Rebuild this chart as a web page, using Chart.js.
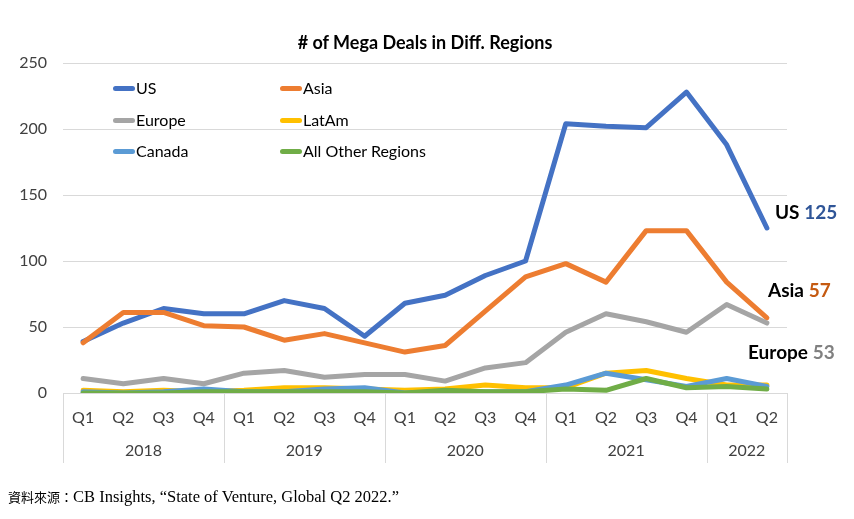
<!DOCTYPE html>
<html lang="zh-Hant">
<head>
  <meta charset="UTF-8">
  <title># of Mega Deals in Diff. Regions</title>
  <script src="https://cdn.jsdelivr.net/npm/chart.js"></script>
  <style>
    body { margin: 0; background: #fff; }
    .wrap { position: relative; width: 854px; height: 519px; font-family: Lato, sans-serif; }
    .titulo { position: absolute; left: 0; width: 850px; top: 30px; text-align: center;
      font-weight: bold; font-size: 18px; line-height: 24px; color: #000; }
    .legenda { position: absolute; font-size: 16px; line-height: 20px; color: #000; display: flex; align-items: center; }
    .legenda i { display: inline-block; width: 22px; height: 5px; border-radius: 3px; margin-right: 1px; }
    .rotulo { position: absolute; font-weight: bold; font-size: 19px; line-height: 24px; color: #000; white-space: nowrap; }
    .fonte { position: absolute; left: 8px; top: 487px; font-family: "Liberation Serif", "Noto Sans CJK TC", serif;
      font-size: 16.5px; line-height: 20px; color: #000; white-space: nowrap; }
    .fonte .cjk { font-family: "Noto Sans CJK TC", sans-serif; font-size: 13px; }
  </style>
</head>
<body>
  <div class="wrap">
    <canvas id="myChart"></canvas>
    <div class="titulo"># of Mega Deals in Diff. Regions</div>
    <div id="legendas"></div>
    <div id="rotulos"></div>
    <div class="fonte"><span class="cjk">資料來源：</span>CB Insights, “State of Venture, Global Q2 2022.”</div>
  </div>

<script>
  const quarters = ['Q1', 'Q2', 'Q3', 'Q4', 'Q1', 'Q2', 'Q3', 'Q4', 'Q1', 'Q2', 'Q3', 'Q4', 'Q1', 'Q2', 'Q3', 'Q4', 'Q1', 'Q2']
  const years = ['2018', '2019', '2020', '2021', '2022']
  const quartersPerYear = [4, 4, 4, 4, 2]
  const yTicks = [0, 50, 100, 150, 200, 250]

  const us = [39, 53, 64, 60, 60, 70, 64, 43, 68, 74, 89, 100, 204, 202, 201, 228, 188, 125]
  const asia = [38, 61, 61, 51, 50, 40, 45, 38, 31, 36, 62, 88, 98, 84, 123, 123, 84, 57]
  const europe = [11, 7, 11, 7, 15, 17, 12, 14, 14, 9, 19, 23, 46, 60, 54, 46, 67, 53]
  const latam = [2, 1, 2, 1, 2, 4, 4, 3, 2, 3, 6, 4, 4, 15, 17, 11, 6, 6]
  const canada = [1, 0, 1, 3, 1, 1, 3, 4, 0, 1, 1, 1, 6, 15, 10, 5, 11, 5]
  const outros = [0, 0, 0, 1, 1, 1, 1, 1, 0, 2, 1, 1, 3, 2, 11, 4, 5, 3]

  const series = [
    { label: 'US', data: us, cor: '#4472C4', ordem: 6 },
    { label: 'Asia', data: asia, cor: '#ED7D31', ordem: 5 },
    { label: 'Europe', data: europe, cor: '#A5A5A5', ordem: 4 },
    { label: 'LatAm', data: latam, cor: '#FFC000', ordem: 3 },
    { label: 'Canada', data: canada, cor: '#5B9BD5', ordem: 2 },
    { label: 'All Other Regions', data: outros, cor: '#70AD47', ordem: 1 }
  ]

  // centro de cada ano e limites entre anos (em indice de categoria)
  var centros = []
  var limites = [-0.5]
  var inicio = 0
  for (var i = 0; i < quartersPerYear.length; i++) {
    centros.push(inicio + (quartersPerYear[i] - 1) / 2)
    inicio += quartersPerYear[i]
    limites.push(inicio - 0.5)
  }

  const separadores = {
    id: 'separadores',
    afterDraw(chart) {
      const ctx = chart.ctx
      const escala = chart.scales.ano
      ctx.save()
      ctx.strokeStyle = '#d9d9d9'
      ctx.lineWidth = 1
      for (var i = 0; i < limites.length; i++) {
        var x = Math.round(escala.getPixelForValue(limites[i])) + 0.5
        ctx.beginPath()
        ctx.moveTo(x, chart.chartArea.bottom)
        ctx.lineTo(x, escala.bottom)
        ctx.stroke()
      }
      ctx.restore()
    }
  }

  const fonte = { family: 'Lato', size: 16 }

  const config = {
    type: 'line',
    data: {
      labels: quarters,
      datasets: series.map(s => ({
        label: s.label,
        data: s.data,
        borderColor: s.cor,
        backgroundColor: s.cor,
        borderWidth: 5,
        pointRadius: 0,
        pointHoverRadius: 0,
        tension: 0,
        borderJoinStyle: 'round',
        borderCapStyle: 'round',
        order: s.ordem
      }))
    },
    options: {
      responsive: true,
      maintainAspectRatio: false,
      animation: false,
      layout: { padding: { left: 18, right: 67, top: 63, bottom: 56 } },
      plugins: {
        legend: { display: false },
        title: { display: false },
        tooltip: { enabled: false }
      },
      scales: {
        x: {
          type: 'category',
          offset: true,
          grid: { display: false, drawTicks: false },
          border: { display: false },
          afterFit: (axis) => { axis.height = 46 },
          ticks: { font: fonte, color: '#404040', padding: 15.5, maxRotation: 0, autoSkip: false }
        },
        ano: {
          type: 'linear',
          position: 'bottom',
          min: -0.5,
          max: quarters.length - 0.5,
          grid: { display: false, drawTicks: false },
          border: { display: false },
          afterBuildTicks: (axis) => { axis.ticks = centros.map(v => ({ value: v })) },
          afterFit: (axis) => { axis.height = 24 },
          ticks: {
            font: fonte, color: '#404040', padding: 2.5, maxRotation: 0, autoSkip: false,
            callback: (v, idx) => years[idx]
          }
        },
        y: {
          min: 0,
          max: 250,
          afterBuildTicks: (axis) => { axis.ticks = yTicks.map(v => ({ value: v })) },
          afterFit: (axis) => { axis.width = 45 },
          grid: { color: '#d9d9d9', drawTicks: false },
          border: { display: false },
          ticks: { font: fonte, color: '#404040', padding: 16 }
        }
      }
    },
    plugins: [separadores]
  }

  let myChart = new Chart(document.getElementById('myChart'), config)

  // legenda em duas colunas
  const posLegenda = [[113, 78], [280, 78], [113, 110], [280, 110], [113, 141], [280, 141]]
  var htmlLegenda = ''
  for (var i = 0; i < series.length; i++) {
    htmlLegenda += '<div class="legenda" style="left:' + posLegenda[i][0] + 'px;top:' + posLegenda[i][1] + 'px">' +
      '<i style="background:' + series[i].cor + '"></i>' + series[i].label + '</div>'
  }
  document.getElementById('legendas').innerHTML = htmlLegenda

  // rotulos do ultimo valor
  const rotulos = [
    { nome: 'US', valor: us[us.length - 1], cor: '#2F5597', left: 775, top: 200 },
    { nome: 'Asia', valor: asia[asia.length - 1], cor: '#C55A11', left: 768, top: 278 },
    { nome: 'Europe', valor: europe[europe.length - 1], cor: '#808080', left: 748, top: 340 }
  ]
  var htmlRotulos = ''
  for (var i = 0; i < rotulos.length; i++) {
    htmlRotulos += '<div class="rotulo" style="left:' + rotulos[i].left + 'px;top:' + rotulos[i].top + 'px">' +
      rotulos[i].nome + ' <span style="color:' + rotulos[i].cor + '">' + rotulos[i].valor + '</span></div>'
  }
  document.getElementById('rotulos').innerHTML = htmlRotulos
</script>
</body>
</html>
